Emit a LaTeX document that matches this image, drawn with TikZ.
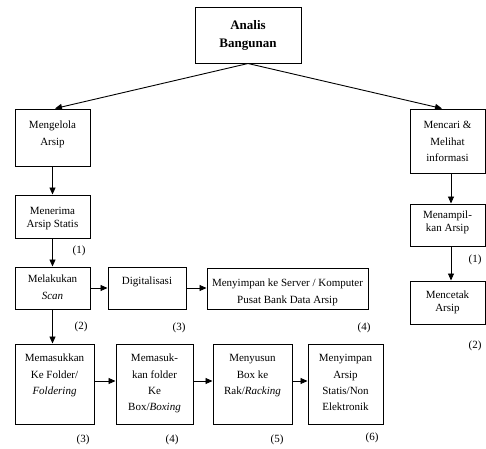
\documentclass[tikz,border=0pt]{standalone}
\usepackage{fontspec}
\setmainfont{Liberation Serif}
\usetikzlibrary{arrows.meta}
% fixed first-line height so that text nodes can be placed by their top edge
\newcommand\boxstrut{\rule{0pt}{8pt}}
\begin{document}
\begin{tikzpicture}[x=1pt,y=-1pt,
  box/.style={draw, line width=1pt, inner sep=0pt},
  txt/.style={anchor=north, inner sep=0pt, align=center},
  n16/.style={txt, font=\fontsize{11}{16.3}\selectfont},
  n17/.style={txt, font=\fontsize{11}{17}\selectfont},
  n13/.style={txt, font=\fontsize{11}{13}\selectfont},
  num/.style={inner sep=0pt, font=\fontsize{11}{13}\selectfont},
  arr/.style={line width=0.9pt, -{Triangle[length=7pt,width=6pt]}}]
\useasboundingbox (0,0) rectangle (486,448);

% boxes
\node[box, minimum width=106, minimum height=56] (top) at (248,35) {};
\node[box, minimum width=75, minimum height=57] (mengelola) at (52.5,137.5) {};
\node[box, minimum width=75, minimum height=64] (mencari) at (447.5,141) {};
\node[box, minimum width=75, minimum height=43] (menerima) at (52.5,216.5) {};
\node[box, minimum width=75, minimum height=42] (melakukan) at (52.5,288) {};
\node[box, minimum width=78, minimum height=42] (digital) at (147,288) {};
\node[box, minimum width=161, minimum height=41] (server) at (287.5,288.5) {};
\node[box, minimum width=79, minimum height=80] (memasukkan) at (54.5,384) {};
\node[box, minimum width=77, minimum height=80] (boxing) at (154.5,384) {};
\node[box, minimum width=79, minimum height=80] (racking) at (252.5,384) {};
\node[box, minimum width=75, minimum height=80] (nonelek) at (345.5,384) {};
\node[box, minimum width=75, minimum height=42] (menampil) at (447.5,225) {};
\node[box, minimum width=75, minimum height=43] (mencetak) at (447.5,302.5) {};

% box texts
\node[txt, font=\fontsize{13}{18}\selectfont\bfseries] (topT) at (248,19.5) {\rule{0pt}{9.5pt}Analis\\Bangunan};
\node[n17] (mengelolaT) at (52.5,120.5) {\boxstrut Mengelola\\Arsip};
\node[n16] (mencariT) at (447.5,120.5) {\boxstrut Mencari \&\\Melihat\\informasi};
\node[n13] (menerimaT) at (52.5,206.5) {\boxstrut Menerima\\Arsip Statis};
\node[n17] (melakukanT) at (52.5,274.5) {\boxstrut Melakukan\\\textit{Scan}};
\node[n16] (digitalT) at (147,276.5) {\boxstrut Digitalisasi};
\node[n16] (serverT) at (287.5,278.5) {\boxstrut Menyimpan ke Server / Komputer\\Pusat Bank Data Arsip};
\node[n16] (memasukkanT) at (54.5,353.5) {\boxstrut Memasukkan\\Ke Folder/\\\textit{Foldering}};
\node[n16] (boxingT) at (154.5,353.5) {\boxstrut Memasuk-\\kan folder\\Ke\\Box/\textit{Boxing}};
\node[n16] (rackingT) at (252.5,353.5) {\boxstrut Menyusun\\Box ke\\Rak/\textit{Racking}};
\node[n16] (nonelekT) at (345.5,353.5) {\boxstrut Menyimpan\\Arsip\\Statis/Non\\Elektronik};
\node[n13] (menampilT) at (447.5,210.5) {\boxstrut Menampil-\\kan Arsip};
\node[n13] (mencetakT) at (447.5,290.5) {\boxstrut Mencetak\\Arsip};

% step numbers
\node[num] (l1) at (79,251) {(1)};
\node[num] (l2) at (81,327) {(2)};
\node[num] (l3a) at (179,328) {(3)};
\node[num] (l4a) at (364,328) {(4)};
\node[num] (l3b) at (83,440) {(3)};
\node[num] (l4b) at (172,440) {(4)};
\node[num] (l5) at (277,440) {(5)};
\node[num] (l6) at (372,438) {(6)};
\node[num] (r1) at (475,260) {(1)};
\node[num] (r2) at (475,346) {(2)};

% connectors
\draw[arr] (top.south) -- ([xshift=2.5pt]mengelola.north);
\draw[arr] (top.south) -- ([xshift=-5.5pt]mencari.north);
\draw[arr] (mengelola) -- (menerima);
\draw[arr] (menerima) -- (melakukan);
\draw[arr] (melakukan.south) -- (melakukan.south |- memasukkan.north);
\draw[arr] (melakukan) -- (digital);
\draw[arr] (digital.east) -- (digital.east -| server.west);
\draw[arr] ([yshift=3pt]memasukkan.east) -- ([yshift=3pt]boxing.west);
\draw[arr] ([yshift=3pt]boxing.east) -- ([yshift=3pt]racking.west);
\draw[arr] ([yshift=3pt]racking.east) -- ([yshift=3pt]nonelek.west);
\draw[arr] ([xshift=3.5pt]mencari.south) -- ([xshift=3.5pt]menampil.north);
\draw[arr] ([xshift=3.5pt]menampil.south) -- ([xshift=3.5pt]mencetak.north);
\end{tikzpicture}
\end{document}
